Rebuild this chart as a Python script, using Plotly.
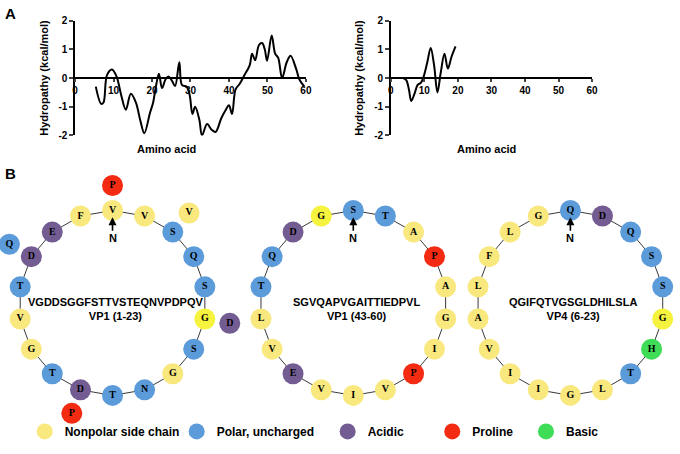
import math
import plotly.graph_objects as go

W, H = 680, 454

# ---- panel A: hydropathy profiles ----
vp1_x = [5.4, 6.8, 7.4, 8.3, 9.6, 10.8, 12.0, 13.2, 14.5, 15.8, 17.0, 18.0, 19.5, 20.3,
         21.0, 21.8, 22.6, 23.5, 24.3, 25.2, 26.0, 27.1, 27.8, 29.0, 29.8, 30.5, 31.2,
         32.3, 33.0, 34.3, 35.5, 36.5, 38.0, 39.0, 40.0, 40.8, 41.7, 42.8, 44.0, 45.4,
         46.0, 46.8, 47.8, 48.6, 49.3, 49.9, 51.1, 52.0, 52.8, 53.8, 55.0, 56.0, 57.5,
         58.3, 59.6]
vp1_y = [-0.3, -0.9, -0.85, 0.1, 0.3, 0.05, -0.6, -1.1, -0.55, -0.85, -1.5, -1.92, -1.2,
         -0.85, -0.3, 0.15, -0.35, -0.05, 0.05, -0.1, -0.28, 0.55, -0.25, -0.3, -0.6,
         -1.25, -1.0, -1.45, -2.0, -1.6, -1.8, -1.88, -1.4, -1.15, -0.95, -1.25, -0.4,
         -0.2, 0.1, 0.45, 0.85, 0.62, 1.15, 1.22, 1.0, 0.6, 1.48, 0.85, 0.7, 0.0, 0.55,
         0.78, 0.3, -0.05, -0.3]

vp4_x = [3.6, 4.6, 5.4, 6.1, 7.1, 8.0, 9.0, 9.8, 10.9, 11.9, 12.9, 13.9, 14.9, 16.0,
         17.0, 18.1, 19.3]
vp4_y = [0.0, -0.07, -0.4, -0.8, -0.53, -0.24, -0.16, 0.05, 0.56, 1.05, 0.45, -0.5,
         0.2, 0.85, 0.33, 0.74, 1.1]

x_ticks = [0, 10, 20, 30, 40, 50, 60]
y_ticks = [-2, -1, 0, 1, 2]
y_tick_text = ["-2", "-1", "0", "1", "2"]

# ---- panel B: helical wheels ----
wheel_seqs = ["VGDDSGGFSTTVSTEQNVPDPQV", "SGVQAPVGAITTIEDPVL", "QGIFQTVGSGLDHILSLA"]
wheel_names = ["VP1 (1-23)", "VP1 (43-60)", "VP4 (6-23)"]
bright_glycine = [[1], [7], [1]]

class_names = ["Nonpolar side chain", "Polar, uncharged", "Acidic", "Proline", "Basic"]
class_residues = ["GAVLIFMW", "STQNYC", "DE", "P", "HKR"]
class_colors = ["#F8E87E", "#5C9BDA", "#735C92", "#F32B12", "#3FDC57"]
bright_yellow = "#F6F33E"

RING = 18          # residues per ring of the wheel
STEP = 100         # degrees per residue in an alpha helix
OUTER = 0.27       # radial offset for residues past the first ring

BOLD = "Liberation Sans"


def px(x):
    return x / W


def py(y):
    return 1 - y / H


fig = go.Figure()

# hydropathy curves
for xs, ys, xa, ya in [(vp1_x, vp1_y, "x", "y"), (vp4_x, vp4_y, "x2", "y2")]:
    fig.add_trace(go.Scatter(x=xs, y=ys, mode="lines", xaxis=xa, yaxis=ya,
                             line=dict(color="black", width=2, shape="spline", smoothing=1),
                             showlegend=False, hoverinfo="skip"))

# wheels: residue i sits at i*100 degrees, clockwise from the top
legend_keys = ["legend", "legend2", "legend3", "legend4", "legend5"]
shown = set()
for w, seq in enumerate(wheel_seqs):
    xa, ya = f"x{w + 3}", f"y{w + 3}"
    theta = [(i * STEP) % 360 for i in range(len(seq))]
    r = [1 + OUTER * (i // RING) for i in range(len(seq))]
    wx = [rr * math.sin(math.radians(t)) for t, rr in zip(theta, r)]
    wy = [rr * math.cos(math.radians(t)) for t, rr in zip(theta, r)]

    ring_theta = sorted(t for t, rr in zip(theta, r) if rr == 1)
    ring_theta = ring_theta + ring_theta[:1]
    fig.add_trace(go.Scatter(x=[math.sin(math.radians(t)) for t in ring_theta],
                             y=[math.cos(math.radians(t)) for t in ring_theta],
                             mode="lines", line=dict(color="#3a3a3a", width=1),
                             xaxis=xa, yaxis=ya, showlegend=False, hoverinfo="skip",
                             cliponaxis=False))

    for c, (name, res) in enumerate(zip(class_names, class_residues)):
        idx = [i for i, a in enumerate(seq) if a in res]
        if not idx:
            continue
        cols = [bright_yellow if (c == 0 and i in bright_glycine[w]) else class_colors[c]
                for i in idx]
        fig.add_trace(go.Scatter(
            x=[wx[i] for i in idx], y=[wy[i] for i in idx], mode="markers",
            marker=dict(size=21, color=cols, line=dict(width=0)),
            name=name, legend=legend_keys[c], showlegend=name not in shown,
            xaxis=xa, yaxis=ya, cliponaxis=False, hoverinfo="skip"))
        shown.add(name)

    fig.add_trace(go.Scatter(x=wx, y=wy, mode="text", text=list(seq),
                             textfont=dict(family="Liberation Serif", size=10,
                                           color="black", weight="bold"),
                             xaxis=xa, yaxis=ya, cliponaxis=False, showlegend=False,
                             hoverinfo="skip"))

# layout geometry (pixels); each wheel axis keeps R px per unit radius
centers = [111, 355, 575]
cy, R, reach = 305, 95, 1.32

for w, cx in enumerate(centers):
    n = w + 3
    x0, x1 = max(0, cx - reach * R), min(W, cx + reach * R)
    y0, y1 = cy - reach * R, cy + reach * R
    fig.layout[f"xaxis{n}"] = dict(domain=[px(x0), px(x1)],
                                   range=[(x0 - cx) / R, (x1 - cx) / R],
                                   anchor=f"y{n}", visible=False, fixedrange=True)
    fig.layout[f"yaxis{n}"] = dict(domain=[py(y1), py(y0)],
                                   range=[(cy - y1) / R, (cy - y0) / R],
                                   anchor=f"x{n}", visible=False, fixedrange=True)

axis_font = dict(family=BOLD, size=10, color="black", weight="bold")
y_dom = [py(133), py(15)]
zero_pos = (y_dom[0] + y_dom[1]) / 2
for n, (x0, x1) in enumerate([(73, 307), (393, 597)]):
    sx = "" if n == 0 else "2"
    fig.layout["xaxis" + sx] = dict(
        domain=[px(x0), px(x1)], range=[0, 60], anchor="free", position=zero_pos,
        tickvals=x_ticks, ticks="outside", ticklen=3, tickwidth=1.5,
        showline=True, linecolor="black", linewidth=1.5, showgrid=False,
        zeroline=False, tickfont=axis_font, fixedrange=True)
    fig.layout["yaxis" + sx] = dict(
        domain=y_dom, range=[-2, 2], anchor="x" + sx, tickvals=y_ticks,
        ticktext=y_tick_text, ticks="outside", ticklen=4, tickwidth=1.5,
        showline=True, linecolor="black", linewidth=1.5, showgrid=False,
        zeroline=False, tickfont=axis_font, fixedrange=True,
        title=dict(text="Hydropathy (kcal/mol)", standoff=8,
                   font=dict(family=BOLD, size=11, color="black", weight="bold")))

annotations = [
    dict(text="A", x=0, y=py(8), font=dict(size=15)),
    dict(text="B", x=0, y=py(172), font=dict(size=15)),
    dict(text="Amino acid", x=px(166), y=py(147), xanchor="center", font=dict(size=11)),
    dict(text="Amino acid", x=px(490), y=py(147), xanchor="center", font=dict(size=11)),
]
for w, cx in enumerate(centers):
    annotations.append(dict(text=wheel_seqs[w] + "<br>" + wheel_names[w],
                            x=px(cx + 3), y=py(cy + 6), xanchor="center", font=dict(size=11)))
    annotations.append(dict(text="N", x=px(cx), y=py(217), xanchor="center", showarrow=True,
                            ax=0, ay=21, arrowhead=2, arrowsize=1, arrowwidth=1.6,
                            arrowcolor="black", font=dict(size=11)))
for a in annotations:
    a.setdefault("showarrow", False)
    a.setdefault("xanchor", "left")
    a.setdefault("yanchor", "middle")
    a["xref"] = "paper"
    a["yref"] = "paper"
    a["font"] = dict(family=BOLD, color="black", weight="bold", **a["font"])

# one legend per class so each entry sits where it does in the figure
legend_text_x = [63, 217, 370, 476, 571]
legend_font = dict(family=BOLD, size=12, color="black", weight="bold")
legends = {}
for key, tx in zip(legend_keys, legend_text_x):
    legends[key] = dict(x=px(tx - 41), xanchor="left", y=py(437), yanchor="middle",
                        orientation="h", font=legend_font, itemsizing="trace",
                        bgcolor="rgba(0,0,0,0)")

fig.update_layout(
    width=W, height=H, margin=dict(l=0, r=0, t=0, b=0),
    paper_bgcolor="white", plot_bgcolor="rgba(0,0,0,0)",
    annotations=annotations, **legends,
)

fig.write_html("out.html", config={"displayModeBar": False},
               post_script="document.body.style.margin='0px';")
